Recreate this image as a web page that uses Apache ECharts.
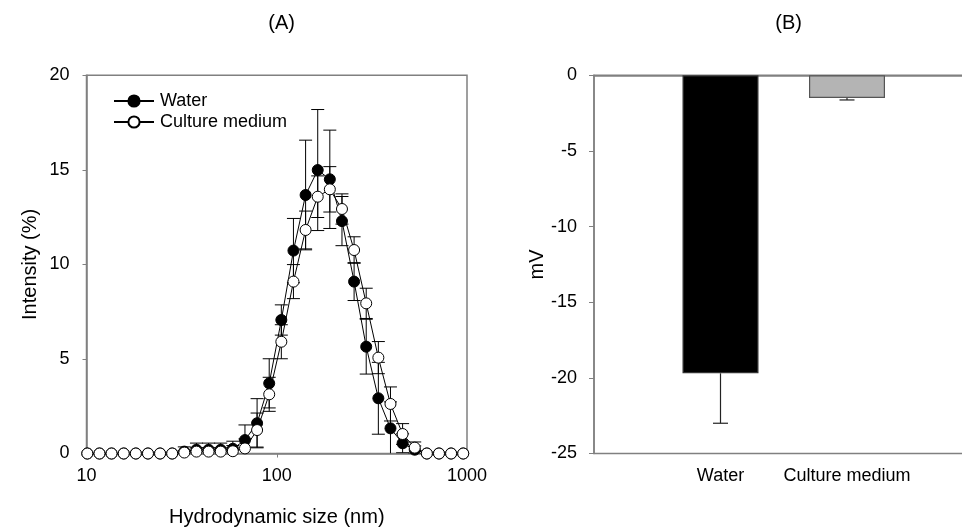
<!DOCTYPE html>
<html>
<head>
<meta charset="utf-8">
<script src="https://cdn.jsdelivr.net/npm/echarts@6/dist/echarts.min.js"></script>
<style>html,body{margin:0;padding:0;background:#fff}#c{width:962px;height:528px}</style>
</head>
<body>
<div id="c"></div>
<script>
// ---- Panel A data: hydrodynamic size distribution ----
const sizes = [10.10, 11.70, 13.54, 15.69, 18.17, 21.04, 24.36, 28.21, 32.67, 37.84, 43.82, 50.75, 58.77, 68.06, 78.82, 91.28, 105.7, 122.4, 141.8, 164.2, 190.1, 220.2, 255.0, 295.3, 342.0, 396.1, 458.7, 531.2, 615.1, 712.4, 825.0, 955.4];
const waterMean = [0, 0, 0, 0, 0, 0, 0, 0, 0.10, 0.20, 0.20, 0.20, 0.25, 0.71, 1.60, 3.71, 7.06, 10.73, 13.67, 14.99, 14.50, 12.29, 9.09, 5.65, 2.92, 1.33, 0.54, 0.20, 0, 0, 0, 0];
const waterErr  = [0, 0, 0, 0, 0, 0, 0, 0, 0.25, 0.35, 0.35, 0.35, 0.40, 0.80, 1.30, 1.30, 0.80, 1.70, 2.90, 3.20, 2.60, 1.30, 1.00, 1.45, 1.90, 1.40, 0.50, 0.20, 0, 0, 0, 0];
const mediumMean = [0, 0, 0, 0, 0, 0, 0, 0, 0.05, 0.10, 0.10, 0.10, 0.12, 0.27, 1.24, 3.13, 5.91, 9.09, 11.82, 13.58, 13.97, 12.93, 10.76, 7.94, 5.07, 2.62, 1.03, 0.31, 0, 0, 0, 0];
const mediumErr  = [0, 0, 0, 0, 0, 0, 0, 0, 0.10, 0.20, 0.20, 0.20, 0.30, 0.50, 0.90, 0.90, 0.90, 0.90, 1.00, 1.10, 1.20, 0.80, 0.70, 0.80, 0.85, 0.90, 0.55, 0.30, 0, 0, 0, 0];
const seriesNames = ['Water', 'Culture medium'];
const xTicksA = [10, 100, 1000];

// ---- Panel B data: zeta potential ----
const zetaCategories = ['Water', 'Culture medium'];
const zetaMean = [-19.7, -1.5];
const zetaErr = [3.3, 0.13];
const zetaColors = ['#000000', '#b4b4b4'];

const FONT = '"Liberation Sans", Arial, Helvetica, sans-serif';
const AXIS_COLOR = '#808080';

function pairs(xs, ys) { return xs.map((x, i) => [x, ys[i]]); }
function triples(xs, ys, es) { return xs.map((x, i) => [x, ys[i], es[i]]); }

function errRenderA(params, api) {
  const x = api.value(0), y = api.value(1), e = api.value(2);
  if (!e) return null;
  const top = api.coord([x, y + e]);
  const lowVal = y - e;
  const bot = api.coord([x, Math.max(0, lowVal)]);
  const hw = 6.5;
  const st = { stroke: '#000', lineWidth: 1 };
  const children = [
    { type: 'line', shape: { x1: top[0], y1: top[1], x2: bot[0], y2: bot[1] }, style: st },
    { type: 'line', shape: { x1: top[0] - hw, y1: top[1], x2: top[0] + hw, y2: top[1] }, style: st }
  ];
  if (lowVal > 0) children.push({ type: 'line', shape: { x1: bot[0] - hw, y1: bot[1], x2: bot[0] + hw, y2: bot[1] }, style: st });
  return { type: 'group', children };
}

function errRenderB(params, api) {
  const x = api.value(0), y = api.value(1), e = api.value(2);
  const p0 = api.coord([x, y]);
  const p1 = api.coord([x, y - e]);
  const hw = 7.5;
  const st = { stroke: '#222', lineWidth: 1.2 };
  return { type: 'group', children: [
    { type: 'line', shape: { x1: p0[0], y1: p0[1], x2: p1[0], y2: p1[1] }, style: st },
    { type: 'line', shape: { x1: p1[0] - hw, y1: p1[1], x2: p1[0] + hw, y2: p1[1] }, style: st }
  ]};
}

const chart = echarts.init(document.getElementById('c'), null, { renderer: 'canvas' });
const option = {
  animation: false,
  backgroundColor: '#fff',
  textStyle: { fontFamily: FONT, color: '#000' },
  title: [
    { text: '(A)', left: 276.7, top: 8, textAlign: 'center', textStyle: { fontFamily: FONT, fontSize: 20, fontWeight: 'normal', color: '#000' } },
    { text: '(B)', left: 783.7, top: 8, textAlign: 'center', textStyle: { fontFamily: FONT, fontSize: 20, fontWeight: 'normal', color: '#000' } }
  ],
  legend: {
    data: seriesNames,
    orient: 'vertical',
    left: 108, top: 87,
    itemWidth: 40, itemHeight: 14, itemGap: 3,
    textStyle: { fontFamily: FONT, fontSize: 18, color: '#000', padding: [0, 0, 0, 1] },
    selectedMode: false
  },
  grid: [
    { left: 86.5, top: 75.3, width: 380.5, height: 378.2, outerBoundsMode: 'none', containLabel: false, show: true, borderColor: AXIS_COLOR, borderWidth: 1.5, backgroundColor: 'transparent' },
    { left: 594, top: 75.3, width: 379.5, height: 378.2, outerBoundsMode: 'none', containLabel: false, show: true, borderColor: AXIS_COLOR, borderWidth: 1.5, backgroundColor: 'transparent' }
  ],
  xAxis: [
    {
      gridIndex: 0, type: 'log', logBase: 10, min: 10, max: 1000,
      name: 'Hydrodynamic size (nm)', nameLocation: 'middle', nameGap: 54,
      nameTextStyle: { fontFamily: FONT, fontSize: 20, color: '#000' },
      axisLine: { show: true, lineStyle: { color: AXIS_COLOR, width: 1.5 } },
      axisTick: { show: true, inside: false, length: 4, lineStyle: { color: AXIS_COLOR }, customValues: [100] },
      axisLabel: { fontFamily: FONT, fontSize: 18, color: '#000', margin: 14, customValues: xTicksA, formatter: v => String(v) },
      splitLine: { show: false }, minorTick: { show: false }
    },
    {
      gridIndex: 1, type: 'value', min: 0, max: 3, interval: 1,
      axisLine: { show: true, lineStyle: { color: AXIS_COLOR, width: 1.5 } },
      axisTick: { show: true, length: 5, lineStyle: { color: AXIS_COLOR }, customValues: zetaCategories.map((c, i) => i + 1) },
      axisLabel: { fontFamily: FONT, fontSize: 18, color: '#000', margin: 14,
        customValues: zetaCategories.map((c, i) => i + 1),
        formatter: v => zetaCategories[Math.round(v) - 1] || '' },
      splitLine: { show: false }
    }
  ],
  yAxis: [
    {
      gridIndex: 0, type: 'value', min: 0, max: 20, interval: 5,
      name: 'Intensity (%)', nameLocation: 'middle', nameGap: 46, nameRotate: 90,
      nameTextStyle: { fontFamily: FONT, fontSize: 20, color: '#000' },
      axisLine: { show: true, lineStyle: { color: AXIS_COLOR, width: 1.5 } },
      axisTick: { show: true, length: 4, lineStyle: { color: AXIS_COLOR } },
      axisLabel: { fontFamily: FONT, fontSize: 18, color: '#000', margin: 17 },
      splitLine: { show: false }
    },
    {
      gridIndex: 1, type: 'value', min: -25, max: 0, interval: 5,
      name: 'mV', nameLocation: 'middle', nameGap: 47, nameRotate: 90,
      nameTextStyle: { fontFamily: FONT, fontSize: 20, color: '#000' },
      axisLine: { show: true, lineStyle: { color: AXIS_COLOR, width: 1.5 } },
      axisTick: { show: true, length: 5, lineStyle: { color: AXIS_COLOR } },
      axisLabel: { fontFamily: FONT, fontSize: 18, color: '#000', margin: 17 },
      splitLine: { show: false }
    }
  ],
  series: [
    { type: 'custom', name: 'waterErr', xAxisIndex: 0, yAxisIndex: 0, data: triples(sizes, waterMean, waterErr), renderItem: errRenderA, z: 1, clip: true, silent: true },
    { type: 'custom', name: 'mediumErr', xAxisIndex: 0, yAxisIndex: 0, data: triples(sizes, mediumMean, mediumErr), renderItem: errRenderA, z: 1, clip: true, silent: true },
    {
      type: 'line', name: seriesNames[0], xAxisIndex: 0, yAxisIndex: 0,
      data: pairs(sizes, waterMean), symbol: 'circle', symbolSize: 11, showAllSymbol: true,
      lineStyle: { color: '#000', width: 1 },
      itemStyle: { color: '#000', borderColor: '#000', borderWidth: 1 }, z: 3
    },
    {
      type: 'line', name: seriesNames[1], xAxisIndex: 0, yAxisIndex: 0,
      data: pairs(sizes, mediumMean), symbol: 'circle', symbolSize: 11, showAllSymbol: true,
      lineStyle: { color: '#000', width: 1 },
      itemStyle: { color: '#fff', borderColor: '#000', borderWidth: 1 }, z: 4
    },
    {
      type: 'bar', name: 'zeta', xAxisIndex: 1, yAxisIndex: 1, barWidth: 76,
      data: zetaMean.map((v, i) => ({ value: [i + 1, v], itemStyle: { color: zetaColors[i], borderColor: i === 0 ? '#333' : '#555', borderWidth: 1.2 } })),
      z: 2
    },
    { type: 'custom', name: 'zetaErr', xAxisIndex: 1, yAxisIndex: 1, data: zetaMean.map((v, i) => [i + 1, v, zetaErr[i]]), renderItem: errRenderB, z: 3, silent: true }
  ]
};
chart.setOption(option);
</script>
</body>
</html>
